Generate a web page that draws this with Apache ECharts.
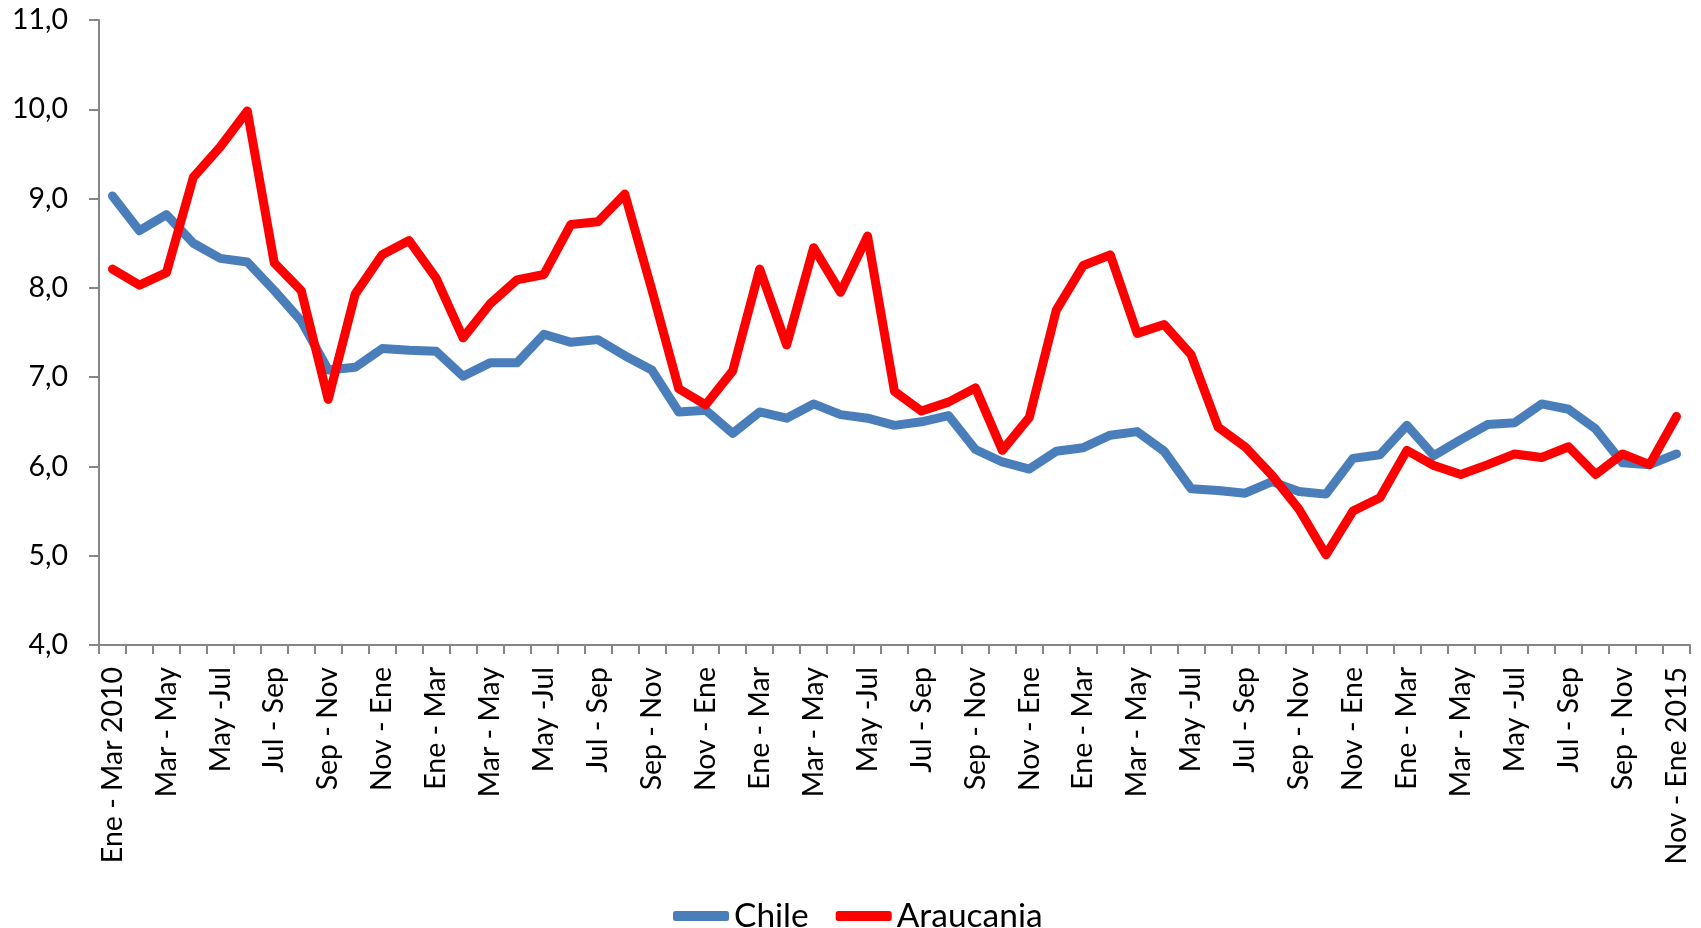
<!DOCTYPE html>
<html>
<head>
<meta charset="utf-8">
<script src="https://cdn.jsdelivr.net/npm/echarts@6/dist/echarts.min.js"></script>
<style>
  html, body { margin: 0; padding: 0; background: #ffffff; }
  #chart { width: 1701px; height: 928px; }
</style>
</head>
<body>
<div id="chart"></div>
<script>
const categories = [
  "Ene - Mar 2010", "Feb - Abr", "Mar - May", "Abr - Jun", "May -Jul", "Jun - Ago",
  "Jul - Sep", "Ago - Oct", "Sep - Nov", "Oct - Dic", "Nov - Ene", "Dic - Feb",
  "Ene - Mar", "Feb - Abr", "Mar - May", "Abr - Jun", "May -Jul", "Jun - Ago",
  "Jul - Sep", "Ago - Oct", "Sep - Nov", "Oct - Dic", "Nov - Ene", "Dic - Feb",
  "Ene - Mar", "Feb - Abr", "Mar - May", "Abr - Jun", "May -Jul", "Jun - Ago",
  "Jul - Sep", "Ago - Oct", "Sep - Nov", "Oct - Dic", "Nov - Ene", "Dic - Feb",
  "Ene - Mar", "Feb - Abr", "Mar - May", "Abr - Jun", "May -Jul", "Jun - Ago",
  "Jul - Sep", "Ago - Oct", "Sep - Nov", "Oct - Dic", "Nov - Ene", "Dic - Feb",
  "Ene - Mar", "Feb - Abr", "Mar - May", "Abr - Jun", "May -Jul", "Jun - Ago",
  "Jul - Sep", "Ago - Oct", "Sep - Nov", "Oct - Dic", "Nov - Ene 2015"
];

const chile = [
  9.03, 8.64, 8.82, 8.50, 8.33, 8.29, 7.97, 7.63, 7.08, 7.11, 7.32, 7.30,
  7.29, 7.01, 7.16, 7.16, 7.48, 7.39, 7.42, 7.24, 7.08, 6.61, 6.63, 6.37,
  6.61, 6.54, 6.70, 6.58, 6.54, 6.46, 6.50, 6.57, 6.19, 6.05, 5.97, 6.17,
  6.21, 6.35, 6.39, 6.17, 5.75, 5.73, 5.70, 5.83, 5.72, 5.69, 6.09, 6.13,
  6.46, 6.12, 6.30, 6.47, 6.49, 6.70, 6.64, 6.42, 6.04, 6.02, 6.14
];

const araucania = [
  8.21, 8.03, 8.17, 9.24, 9.58, 9.98, 8.28, 7.97, 6.75, 7.93, 8.37, 8.53,
  8.11, 7.44, 7.82, 8.09, 8.15, 8.71, 8.74, 9.05, 7.98, 6.87, 6.69, 7.07,
  8.21, 7.36, 8.45, 7.95, 8.58, 6.84, 6.62, 6.72, 6.88, 6.18, 6.55, 7.75,
  8.25, 8.37, 7.49, 7.59, 7.25, 6.44, 6.22, 5.90, 5.52, 5.01, 5.50, 5.65,
  6.18, 6.01, 5.91, 6.02, 6.14, 6.10, 6.22, 5.91, 6.14, 6.02, 6.56
];

const seriesNames = ["Chile", "Araucania"];

const chart = echarts.init(document.getElementById('chart'), null, { renderer: 'canvas' });

const axisColor = '#868686';
const fontFamily = 'Lato, "Open Sans", sans-serif';

chart.setOption({
  backgroundColor: '#ffffff',
  animation: false,
  grid: { left: 99, right: 11, top: 20, bottom: 283, containLabel: false },
  legend: {
    data: seriesNames,
    left: 668,
    top: 894,
    itemWidth: 56,
    itemHeight: 10,
    itemGap: 27,
    icon: 'roundRect',
    textStyle: { fontFamily: fontFamily, fontSize: 33.5, color: '#000000' }
  },
  xAxis: {
    type: 'category',
    data: categories,
    boundaryGap: true,
    axisLine: { show: true, lineStyle: { color: axisColor, width: 2 } },
    axisTick: { show: true, interval: 0, length: 9, lineStyle: { color: axisColor, width: 2 } },
    axisLabel: {
      interval: 1,
      rotate: 90,
      margin: 22,
      fontFamily: fontFamily,
      fontSize: 28.5,
      color: '#000000'
    },
    splitLine: { show: false }
  },
  yAxis: {
    type: 'value',
    min: 4,
    max: 11,
    interval: 1,
    axisLine: { show: true, lineStyle: { color: axisColor, width: 2 } },
    axisTick: { show: true, length: 10, lineStyle: { color: axisColor, width: 2 } },
    axisLabel: {
      margin: 31,
      fontFamily: fontFamily,
      fontSize: 28.5,
      color: '#000000',
      formatter: function (v) { return v.toFixed(1).replace('.', ','); }
    },
    splitLine: { show: false }
  },
  series: [
    {
      name: seriesNames[0],
      type: 'line',
      data: chile,
      symbol: 'none',
      color: '#4A7EBB',
      lineStyle: { color: '#4A7EBB', width: 9, cap: 'round', join: 'round' },
      z: 2
    },
    {
      name: seriesNames[1],
      type: 'line',
      data: araucania,
      symbol: 'none',
      color: '#FF0000',
      lineStyle: { color: '#FF0000', width: 9, cap: 'round', join: 'round' },
      z: 3
    }
  ]
});
</script>
</body>
</html>
